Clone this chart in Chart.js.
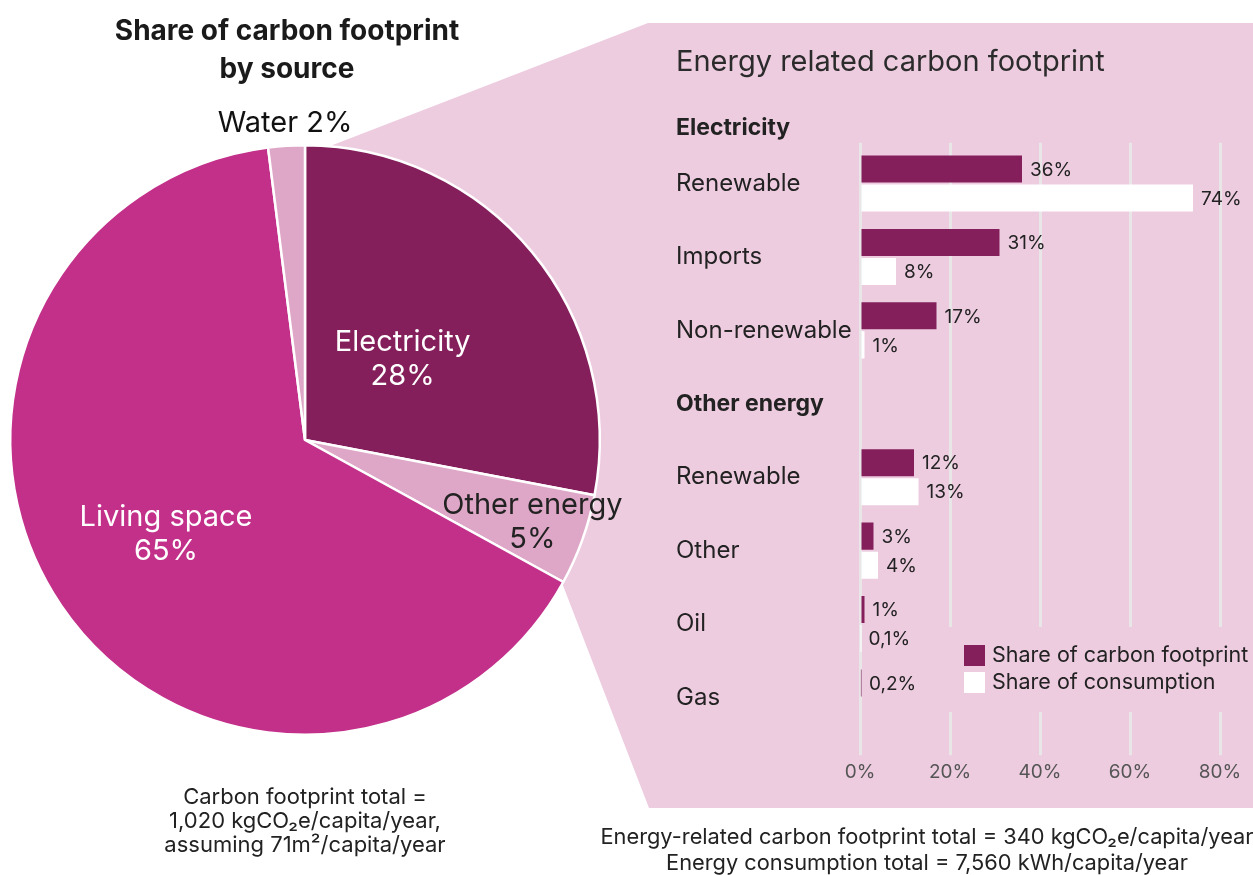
<!DOCTYPE html>
<html>
<head>
<meta charset="utf-8">
<script src="https://cdn.jsdelivr.net/npm/chart.js@4/dist/chart.umd.min.js"></script>
<style>
  html, body { margin: 0; padding: 0; background: #fff; }
  body { width: 1253px; height: 875px; position: relative; overflow: hidden; font-family: Inter, "Noto Sans", sans-serif; color: #222; }
  #panel { position: absolute; left: 0; top: 0; width: 1253px; height: 875px; background: #eecce0;
    clip-path: polygon(325px 148px, 648px 23px, 1253px 23px, 1253px 808px, 649px 808px, 562px 583px); }
  #pieCanvasBox { position: absolute; left: 0; top: 0; width: 640px; height: 875px; }
  #barCanvasBox { position: absolute; left: 650px; top: 22px; width: 603px; height: 786px; }
  .txt { position: absolute; text-align: center; white-space: nowrap; }
  #pieTitle { left: 0; width: 574px; top: 11px; font-size: 28px; line-height: 38px; font-weight: 700; color: #1a1a1a; }
  #pieNote { left: 0; width: 610px; top: 784px; font-size: 22px; line-height: 24px; color: #222; }
  #barNote { left: 427px; width: 1000px; top: 823px; font-size: 21.8px; line-height: 26px; color: #222; }
</style>
</head>
<body>
<div id="panel"></div>
<div id="pieCanvasBox"><canvas id="pie"></canvas></div>
<div id="barCanvasBox"><canvas id="bars"></canvas></div>
<div class="txt" id="pieTitle">Share of carbon footprint<br>by source</div>
<div class="txt" id="pieNote">Carbon footprint total =<br>1,020 kgCO₂e/capita/year,<br>assuming 71m²/capita/year</div>
<div class="txt" id="barNote">Energy-related carbon footprint total = 340 kgCO₂e/capita/year<br>Energy consumption total = 7,560 kWh/capita/year</div>
<script>
// Carbon footprint by source (percent), clockwise from 12 o'clock
const sourceNames = ['Electricity', 'Other energy', 'Living space', 'Water'];
const sourceShares = [28, 5, 65, 2];
const sourceColors = ['#841f5c', '#dfa7c7', '#c2308a', '#dfa7c7'];

// Energy breakdown rows; 'Other energy' is a group header row without bars
const energyRows = ['Renewable', 'Imports', 'Non-renewable', 'Other energy', 'Renewable', 'Other', 'Oil', 'Gas'];
const headerRows = [3];
const footprintShare = [36, 31, 17, null, 12, 3, 1, 0.2];
const consumptionShare = [74, 8, 1, null, 13, 4, 0.1, null];
const shareTicks = [0, 20, 40, 60, 80];

const FONT = 'Inter, "Noto Sans", sans-serif';
const PANEL = '#eecce0';

// Where each slice label sits (fraction of radius along the slice bisector)
const pieLabelLayout = [
  { r: 0.43, color: '#ffffff' },
  { r: 0.82, color: '#222222' },
  { r: 0.57, color: '#ffffff' },
  { r: 1.075, color: '#111111', inline: true }
];

const pieLabels = {
  id: 'pieLabels',
  afterDraw(chart) {
    const ctx = chart.ctx;
    const meta = chart.getDatasetMeta(0);
    ctx.save();
    ctx.font = '400 29px ' + FONT;
    ctx.textAlign = 'center';
    ctx.textBaseline = 'middle';
    meta.data.forEach((arc, i) => {
      const p = arc.getProps(['x', 'y', 'startAngle', 'endAngle', 'outerRadius'], true);
      const mid = (p.startAngle + p.endAngle) / 2;
      const lay = pieLabelLayout[i];
      const r = p.outerRadius * lay.r;
      const cx = p.x + Math.cos(mid) * r;
      const cy = p.y + Math.sin(mid) * r;
      const value = chart.data.datasets[0].data[i] + '%';
      const name = chart.data.labels[i];
      const lines = lay.inline ? [name + ' ' + value] : [name, value];
      ctx.fillStyle = lay.color;
      lines.forEach((t, k) => ctx.fillText(t, cx, cy + (k - (lines.length - 1) / 2) * 34));
    });
    ctx.restore();
  }
};

new Chart(document.getElementById('pie'), {
  type: 'pie',
  data: {
    labels: sourceNames,
    datasets: [{
      data: sourceShares,
      backgroundColor: sourceColors,
      borderColor: '#ffffff',
      borderWidth: 2.5
    }]
  },
  options: {
    responsive: true,
    maintainAspectRatio: false,
    animation: false,
    events: [],
    layout: { padding: { left: 9, top: 144, right: 39, bottom: 139 } },
    plugins: { legend: { display: false }, tooltip: { enabled: false } }
  },
  plugins: [pieLabels]
});

const fmtShare = v => String(v).replace('.', ',') + '%';

// Value labels at the end of each bar
const barValues = {
  id: 'barValues',
  afterDatasetsDraw(chart) {
    const ctx = chart.ctx;
    ctx.save();
    ctx.font = '400 19px ' + FONT;
    ctx.fillStyle = '#222';
    ctx.textAlign = 'left';
    ctx.textBaseline = 'middle';
    chart.data.datasets.forEach((ds, di) => {
      chart.getDatasetMeta(di).data.forEach((el, i) => {
        const v = ds.data[i];
        if (v === null || v === undefined) return;
        ctx.fillText(fmtShare(v), el.x + 8, el.y + 1);
      });
    });
    ctx.restore();
  }
};

// Legend box drawn over the grid in the lower right of the plot
const boxLegend = {
  id: 'boxLegend',
  afterDraw(chart) {
    const ctx = chart.ctx;
    const left = 295, top = 605;
    ctx.save();
    ctx.fillStyle = PANEL;
    ctx.fillRect(left, top, chart.width - left, 85);
    ctx.font = '400 21.5px ' + FONT;
    ctx.textBaseline = 'middle';
    ctx.textAlign = 'left';
    chart.data.datasets.forEach((ds, i) => {
      const y = top + 18 + i * 27;
      ctx.fillStyle = ds.backgroundColor;
      ctx.fillRect(left + 19, y, 21, 21);
      ctx.fillStyle = '#222';
      ctx.fillText(ds.label, left + 47, y + 11);
    });
    ctx.restore();
  }
};

const gridColor = '#e9e6e8';

new Chart(document.getElementById('bars'), {
  type: 'bar',
  data: {
    labels: energyRows,
    datasets: [
      { label: 'Share of carbon footprint', data: footprintShare, backgroundColor: '#841f5c' },
      { label: 'Share of consumption', data: consumptionShare, backgroundColor: '#ffffff' }
    ]
  },
  options: {
    indexAxis: 'y',
    responsive: true,
    maintainAspectRatio: false,
    animation: false,
    events: [],
    categoryPercentage: 0.791,
    barPercentage: 0.931,
    layout: { padding: { left: 26, right: 33, top: 0, bottom: 18 } },
    scales: {
      y: {
        type: 'category',
        grid: { display: false },
        border: { display: false },
        afterFit: s => { s.width = 184; },
        ticks: {
          crossAlign: 'far',
          color: '#222',
          font: c => (headerRows.includes(c.index)
            ? { family: FONT, size: 23, weight: '700' }
            : { family: FONT, size: 24, weight: '400' })
        }
      },
      x: {
        position: 'bottom',
        min: 0, max: 80,
        afterBuildTicks: s => { s.ticks = shareTicks.map(v => ({ value: v })); },
        border: { display: false },
        grid: { color: gridColor, lineWidth: 3, drawTicks: true, tickLength: 21 },
        ticks: { color: '#555', font: { family: FONT, size: 19 }, padding: 6, callback: v => v + '%' }
      },
      x2: {
        position: 'top',
        min: 0, max: 80,
        afterBuildTicks: s => { s.ticks = shareTicks.map(v => ({ value: v })); },
        border: { display: false },
        grid: { color: gridColor, lineWidth: 3, drawOnChartArea: false, drawTicks: true, tickLength: 4 },
        ticks: { display: false }
      }
    },
    plugins: {
      legend: { display: false },
      tooltip: { enabled: false },
      title: {
        display: true,
        text: 'Energy related carbon footprint',
        align: 'start',
        color: '#2b2b2b',
        font: { family: FONT, size: 29, weight: '400' },
        padding: { top: 22.6, bottom: 0 }
      },
      subtitle: {
        display: true,
        text: 'Electricity',
        align: 'start',
        color: '#222',
        font: { family: FONT, size: 23, weight: '700' },
        padding: { top: 34.8, bottom: 1 }
      }
    }
  },
  plugins: [barValues, boxLegend]
});
</script>
</body>
</html>
